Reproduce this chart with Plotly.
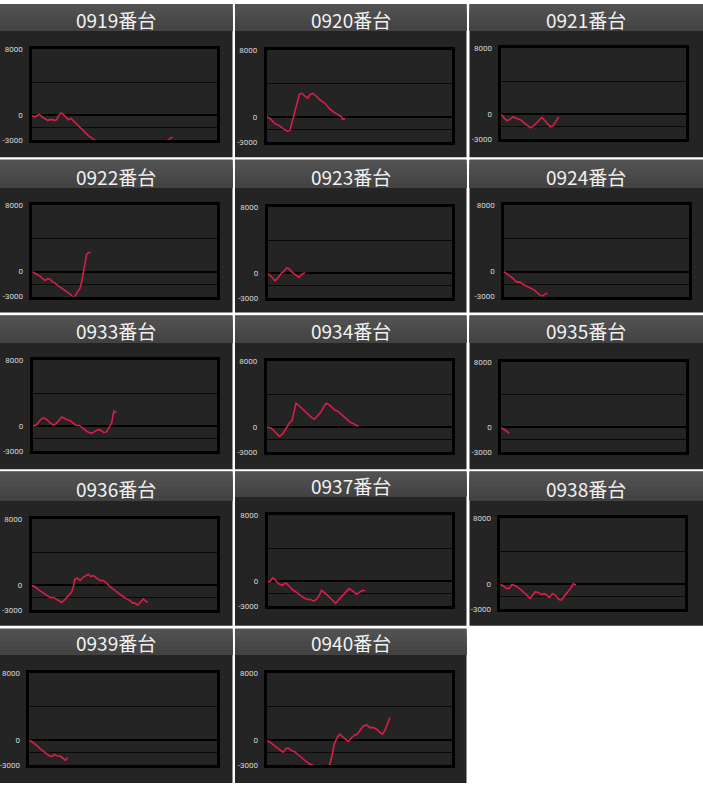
import plotly.graph_objects as go

W, H = 703, 788

# machine numbers shown in the panel headers
TITLES = ["0919番台", "0920番台", "0921番台",
          "0922番台", "0923番台", "0924番台",
          "0933番台", "0934番台", "0935番台",
          "0936番台", "0937番台", "0938番台",
          "0939番台", "0940番台"]

# x: position along the game axis (0-100 of the chart width), y: coin difference
x_0919 = [0, 1.3, 4.0, 6.1, 8.5, 10.6, 12.1, 13.4, 14.4, 15.9, 17.3, 19.7, 21.1, 22.4,
          25.1, 27.8, 30.5, 33.2, 35.0, 45, 55, 65, 72, 74.4, 76.0]
y_0919 = [-80, -200, 80, -320, -640, -520, -640, -560, -80, 280, 0, -560, -400, -680,
          -1290, -1890, -2490, -2930, -3130, -4200, -4800, -4000, -3300, -2970, -2650]

x_0920 = [0, 1.8, 4.5, 6.8, 9.0, 11.2, 12.6, 14.4, 16.2, 17.7, 18.9, 20.7, 22.2, 23.4,
          24.9, 26.7, 28.8, 31.5, 33.7, 36.0, 38.2, 40.2, 41.1, 42.3]
y_0920 = [0, -200, -830, -1070, -1460, -1740, -1620, -160, 1620, 2730, 2810, 2490, 2210, 2650,
          2810, 2490, 2020, 1620, 1030, 590, 320, 40, -280, -280]

x_0921 = [0, 1.4, 3.1, 4.5, 6.3, 8.1, 10.8, 13.5, 15.9, 18.0, 19.8, 22.0, 24.3, 26.5, 27.9, 29.4, 31.0]
y_0921 = [0, -440, -760, -640, -320, -480, -720, -1240, -1630, -1270, -840, -360, -960, -1510,
          -1430, -840, -320]

x_0922 = [0, 1.4, 2.7, 4.5, 5.9, 7.0, 8.3, 9.5, 11.0, 12.3, 13.5, 15.0, 16.8, 18.6, 20.4,
          22.2, 23.1, 24.3, 25.8, 26.7, 27.6, 28.5, 29.4, 30.3, 31.5]
y_0922 = [0, -200, -400, -590, -910, -1070, -830, -910, -1230, -1380, -1620, -1860, -2170,
          -2370, -2690, -3080, -2960, -2490, -1980, -1190, 0, 1190, 2090, 2290, 2250]

x_0923 = [0, 1.6, 4.0, 5.8, 7.6, 8.9, 10.3, 11.8, 13.6, 15.4, 17.0, 18.5, 20.3]
y_0923 = [0, -280, -880, -480, 80, 280, 680, 520, 80, -200, -480, -80, 80]

x_0924 = [0, 2.3, 4.7, 6.8, 8.6, 10.4, 12.2, 14.9, 16.7, 18.5, 20.3, 22.1, 23.4]
y_0924 = [0, -360, -790, -1260, -1230, -1540, -1740, -1980, -2250, -2650, -2960, -2730, -2570]

x_0933 = [0, 1.8, 3.1, 4.3, 5.8, 7.6, 9.4, 11.2, 12.6, 13.9, 15.7, 17.0, 18.1, 20.2, 22.0,
          23.5, 25.3, 27.4, 29.6, 31.9, 33.8, 35.6, 37.0, 38.6, 40.1, 41.5, 42.8, 44.0, 45.1]
y_0933 = [0, 120, 400, 800, 1000, 800, 400, 120, 280, 680, 1080, 1000, 800, 680, 400,
          80, 80, -280, -680, -880, -680, -400, -520, -800, -680, -200, 400, 1880, 1600]

x_0934 = [0, 2.2, 3.9, 6.8, 8.6, 10.4, 12.2, 13.6, 14.7, 15.8, 17.1, 18.9, 20.6, 22.4, 24.2,
          25.7, 27.3, 29.1, 30.5, 32.0, 33.8, 35.5, 36.8, 38.1, 39.5, 41.3, 43.1, 44.9, 46.3,
          47.6, 49.4]
y_0934 = [0, -120, -440, -1120, -840, -120, 480, 760, 1680, 2880, 2680, 2280, 1880, 1480, 1160,
          960, 1400, 1800, 2360, 2880, 2680, 2280, 2040, 1960, 1680, 1280, 880, 600, 480,
          280, 80]

x_0935 = [0, 2.2, 4.5]
y_0935 = [0, -320, -730]

x_0936 = [0, 1.8, 3.6, 5.4, 7.2, 9.0, 10.3, 11.7, 13.5, 15.3, 16.2, 18.0, 19.8, 21.6, 22.5,
          23.4, 24.7, 26.1, 27.6, 29.4, 30.6, 31.9, 33.3, 35.1, 36.9, 38.7, 40.5, 42.3, 44.5,
          46.8, 49.2, 51.0, 53.2, 54.6, 55.9, 57.3, 58.6, 60.4, 61.6, 62.7]
y_0936 = [0, -160, -520, -790, -990, -1310, -1510, -1430, -1710, -1980, -2060, -1710, -1310,
          -790, -120, 790, 870, 600, 950, 1190, 1350, 1070, 1190, 870, 600, 600, 280, -160,
          -560, -950, -1310, -1590, -1830, -2140, -2140, -2380, -2100, -1630, -1900, -2060]

x_0937 = [0, 1.3, 2.7, 4.0, 5.8, 7.6, 9.9, 11.7, 13.9, 16.6, 19.3, 21.5, 23.3, 24.7, 26.5,
          28.0, 29.2, 31.0, 33.4, 35.6, 36.8, 38.3, 40.1, 41.9, 44.2, 46.0, 48.2, 50.0, 51.4, 52.7]
y_0937 = [0, 0, 430, 200, -280, -470, -200, -590, -1070, -1460, -1940, -2170, -2170, -2370,
          -2170, -1660, -1070, -1380, -1940, -2450, -2650, -2250, -1780, -1380, -870, -1150,
          -1540, -1260, -1070, -1150]

x_0938 = [0, 1.6, 3.4, 4.9, 6.3, 8.1, 10.3, 12.5, 14.3, 16.1, 17.1, 19.0, 20.8, 22.0, 23.8,
          25.1, 26.5, 28.3, 29.8, 31.6, 32.9, 34.1, 35.6, 37.0, 38.3, 39.5, 41.0]
y_0938 = [0, -160, -480, -480, 0, -160, -480, -870, -1270, -1710, -1390, -870, -990, -1190,
          -1110, -1270, -1590, -1110, -1310, -1790, -1900, -1590, -1110, -870, -400, 80, -80]

x_0939 = [0, 2.1, 4.3, 6.0, 7.8, 9.6, 11.0, 12.3, 13.3, 14.6, 16.4, 17.8, 19.2, 20.5]
y_0939 = [0, -320, -710, -1110, -1420, -1660, -1940, -1940, -1740, -1900, -1940, -2170,
          -2450, -2130]

x_0940 = [0, 2.3, 4.7, 6.8, 8.6, 10.1, 11.4, 13.2, 15.0, 16.8, 18.6, 20.4, 22.2, 24.9, 28.0,
          31.0, 33.5, 34.8, 36.2, 37.8, 39.3, 41.1, 43.8, 45.6, 47.4, 48.6, 50.1, 51.9, 53.7,
          55.5, 57.3, 59.1, 60.9, 62.3, 63.6, 65.0, 66.3]
y_0940 = [0, -400, -790, -1190, -1460, -990, -950, -1260, -1420, -1780, -2130, -2450, -2770,
          -3040, -3800, -3600, -3040, -2060, -470, 320, 710, 320, -160, 320, 630, 710, 1190,
          1700, 1820, 1500, 1500, 1300, 910, 710, 1190, 1900, 2690]

SERIES = [(x_0919, y_0919), (x_0920, y_0920), (x_0921, y_0921),
          (x_0922, y_0922), (x_0923, y_0923), (x_0924, y_0924),
          (x_0933, y_0933), (x_0934, y_0934), (x_0935, y_0935),
          (x_0936, y_0936), (x_0937, y_0937), (x_0938, y_0938),
          (x_0939, y_0939), (x_0940, y_0940)]

Y_TICKS = [8000, 4000, 0, -1500, -3000]
Y_TICK_TEXT = ["8000", "", "0", "", "-3000"]

# ---- layout (pixels of the 703x788 page) ----
COLS = [(0, 232.5), (235, 466.5), (469.5, 703)]
ROWS = [(0, 155), (157.5, 312), (315, 470.5), (473, 629), (632, 788)]
HEADERS = [(0, 27), (157.5, 186), (315, 343), (473, 502), (632, 658)]
TITLE_Y = [16, 174, 330, 490, 646]
# plot box of every panel: x0, x1, y0, y1
BOXES = [(32, 216.7, 46, 137.3), (266.7, 451.7, 46.7, 139.3), (501.3, 686.3, 44.7, 136.7),
         (32.3, 217.3, 203.3, 296), (267.7, 451.7, 205.7, 297.7), (504, 689.3, 203.3, 296),
         (32.7, 217.3, 360.3, 452), (266.7, 452.3, 361.3, 453), (501, 686, 362, 453),
         (31.7, 216.7, 521, 613.3), (267.7, 452.3, 516.7, 609.3), (500.3, 685, 520, 612.3),
         (29.3, 216.7, 677, 769.7), (267.3, 452.3, 677, 770)]

LINE_RED = "#d91e47"
BODY = "#242424"
HEADER_BAND = ["#525252", "#4f4f4f", "#4c4c4c", "#494949", "#464646", "#434343"]


def fx(px):
    return px / W


def fy(py):
    return 1 - py / H


fig = go.Figure()
shapes = []
annotations = []

for i, (title, (xs, ys)) in enumerate(zip(TITLES, SERIES)):
    r, c = divmod(i, 3)
    n = i + 1
    cx0, cx1 = COLS[c]
    ry0, ry1 = ROWS[r]
    hy0, hy1 = HEADERS[r]
    ty = TITLE_Y[r]
    if i == 10:  # 0937 screenshot sits a little higher
        hy1, ty = 498, 487

    # panel body
    shapes.append(dict(type="rect", xref="paper", yref="paper", layer="below",
                       x0=fx(cx0), x1=fx(cx1), y0=fy(ry1), y1=fy(ry0),
                       fillcolor=BODY, line_width=0))
    # header band: stacked rects that all reach the bottom, so no seams show
    step = (hy1 - hy0) / len(HEADER_BAND)
    for k, col in enumerate(HEADER_BAND):
        shapes.append(dict(type="rect", xref="paper", yref="paper", layer="below",
                           x0=fx(cx0), x1=fx(cx1),
                           y0=fy(hy1), y1=fy(hy0 + step * k),
                           fillcolor=col, line_width=0))
    annotations.append(dict(text=title, x=fx((cx0 + cx1) / 2), y=fy(ty),
                            xref="paper", yref="paper", showarrow=False,
                            xanchor="center", yanchor="middle",
                            font=dict(family="Noto Sans CJK JP", size=19, color="#f2f2f2")))

    bx0, bx1, by0, by1 = BOXES[i]
    fig.add_trace(go.Scatter(x=xs, y=ys, mode="lines", xaxis=f"x{n}", yaxis=f"y{n}",
                             line=dict(color=LINE_RED, width=1.6), hoverinfo="skip",
                             showlegend=False))
    fig.update_layout({
        f"xaxis{n}": dict(domain=[fx(bx0), fx(bx1)], range=[0, 100], anchor=f"y{n}",
                          showgrid=False, zeroline=False, showticklabels=False, ticks="",
                          showline=True, linecolor="#000000", linewidth=2.5, mirror=True,
                          fixedrange=True),
        f"yaxis{n}": dict(domain=[fy(by1), fy(by0)], range=[-3000, 8000], anchor=f"x{n}",
                          tickvals=Y_TICKS, ticktext=Y_TICK_TEXT, ticks="",
                          showgrid=True, gridcolor="#0a0a0a", gridwidth=1,
                          zeroline=True, zerolinecolor="#000000", zerolinewidth=2,
                          showline=True, linecolor="#000000", linewidth=2.5, mirror=True,
                          ticklabelstandoff=5,
                          tickfont=dict(family="Roboto", size=8, color="#d8d8d8"),
                          fixedrange=True),
    })

fig.update_layout(
    width=W, height=H,
    margin=dict(l=0, r=0, t=0, b=0),
    paper_bgcolor="#ffffff",
    plot_bgcolor="#272727",
    shapes=shapes,
    annotations=annotations,
    showlegend=False,
)

# the page body has a default 8px margin; drop it so the figure fills the window
fig.write_html("out.html", config={"displayModeBar": False},
               post_script="document.body.style.margin='0';document.body.style.padding='0';"
                           "document.documentElement.style.overflow='hidden';")
